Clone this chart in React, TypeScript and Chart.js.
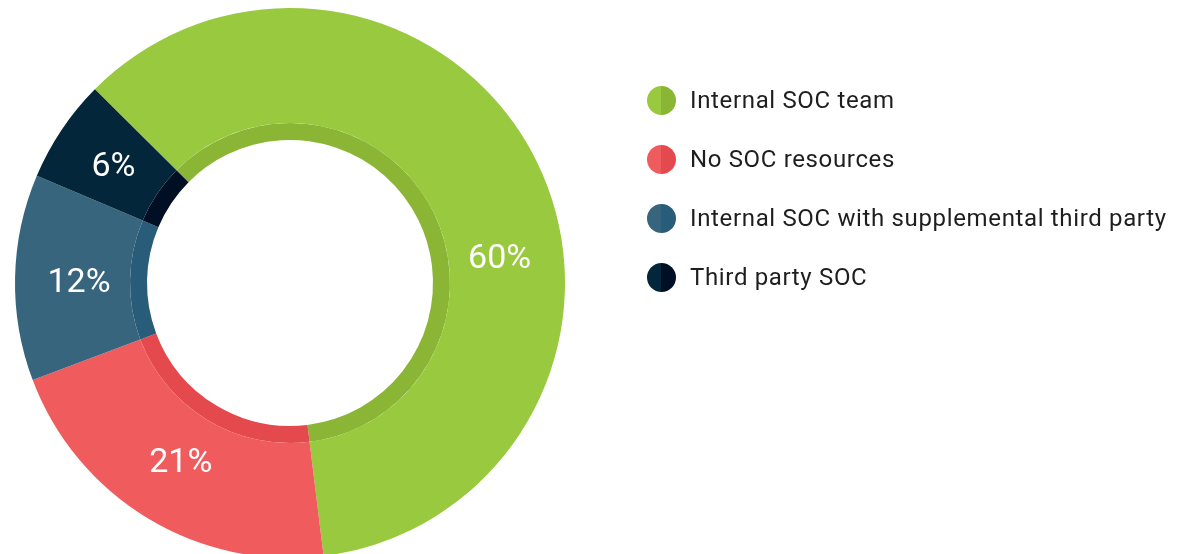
import React, { useEffect, useRef } from "react";
import { Chart, registerables } from "chart.js";

Chart.register(...registerables);

const categories = [
  "Internal SOC team",
  "No SOC resources",
  "Internal SOC with supplemental third party",
  "Third party SOC",
];
const values = [60, 21, 12, 6];
const valueLabels = ["60%", "21%", "12%", "6%"];
const mainColors = ["#98c93e", "#f05b5e", "#37657d", "#03263a"];
const ringColors = ["#8bb535", "#e3494d", "#285c78", "#010f24"];
const labelAnchor = [0.59, 0.5, 0.47, 0.47];

const labelPlugin = {
  id: "sliceLabels",
  afterDatasetsDraw(chart: any) {
    const meta = chart.getDatasetMeta(0);
    const ctx = chart.ctx;
    ctx.save();
    ctx.fillStyle = "#ffffff";
    ctx.font = "400 34px Roboto";
    ctx.textAlign = "center";
    ctx.textBaseline = "middle";
    meta.data.forEach((el: any, i: number) => {
      const p = el.getProps(["x", "y", "startAngle", "endAngle", "outerRadius"], true);
      const a = p.startAngle + (p.endAngle - p.startAngle) * labelAnchor[i];
      const r = p.outerRadius - 64;
      ctx.fillText(valueLabels[i], p.x + Math.cos(a) * r, p.y + Math.sin(a) * r);
    });
    ctx.restore();
  },
};

export default function App() {
  const ref = useRef<HTMLCanvasElement>(null);
  useEffect(() => {
    document.body.style.margin = "0";
    const chart = new Chart(ref.current as HTMLCanvasElement, {
      type: "doughnut",
      data: {
        labels: categories,
        datasets: [
          { data: values, backgroundColor: mainColors, borderWidth: 0, weight: 115 },
          { data: values, backgroundColor: ringColors, borderWidth: 0, weight: 17 },
        ],
      },
      options: {
        responsive: false,
        animation: false,
        events: [],
        rotation: -45.2,
        radius: 275,
        cutout: "52%",
        layout: { padding: { left: 15, right: 632, top: 12, bottom: 0 } },
        plugins: { legend: { display: false }, tooltip: { enabled: false } },
      },
      plugins: [labelPlugin],
    } as any);
    return () => chart.destroy();
  }, []);

  return (
    <div style={{ position: "fixed", left: 0, top: 0, width: 1197, height: 554, background: "#fff", overflow: "hidden" }}>
      <canvas ref={ref} width={1197} height={554} style={{ position: "absolute", left: 0, top: 0 }} />
      {categories.map((c, i) => (
        <div
          key={c}
          style={{
            position: "absolute",
            left: 647,
            top: 100 + i * 59 - 15,
            height: 30,
            display: "flex",
            alignItems: "center",
            fontFamily: "Roboto",
            fontSize: 24,
            letterSpacing: 0.65,
            color: "#1e1e1e",
            whiteSpace: "nowrap",
          }}
        >
          <span
            style={{
              display: "inline-block",
              width: 29,
              height: 29,
              borderRadius: "50%",
              background: `linear-gradient(to right, ${mainColors[i]} 50%, ${ringColors[i]} 50%)`,
              marginRight: 14,
            }}
          />
          {c}
        </div>
      ))}
    </div>
  );
}
